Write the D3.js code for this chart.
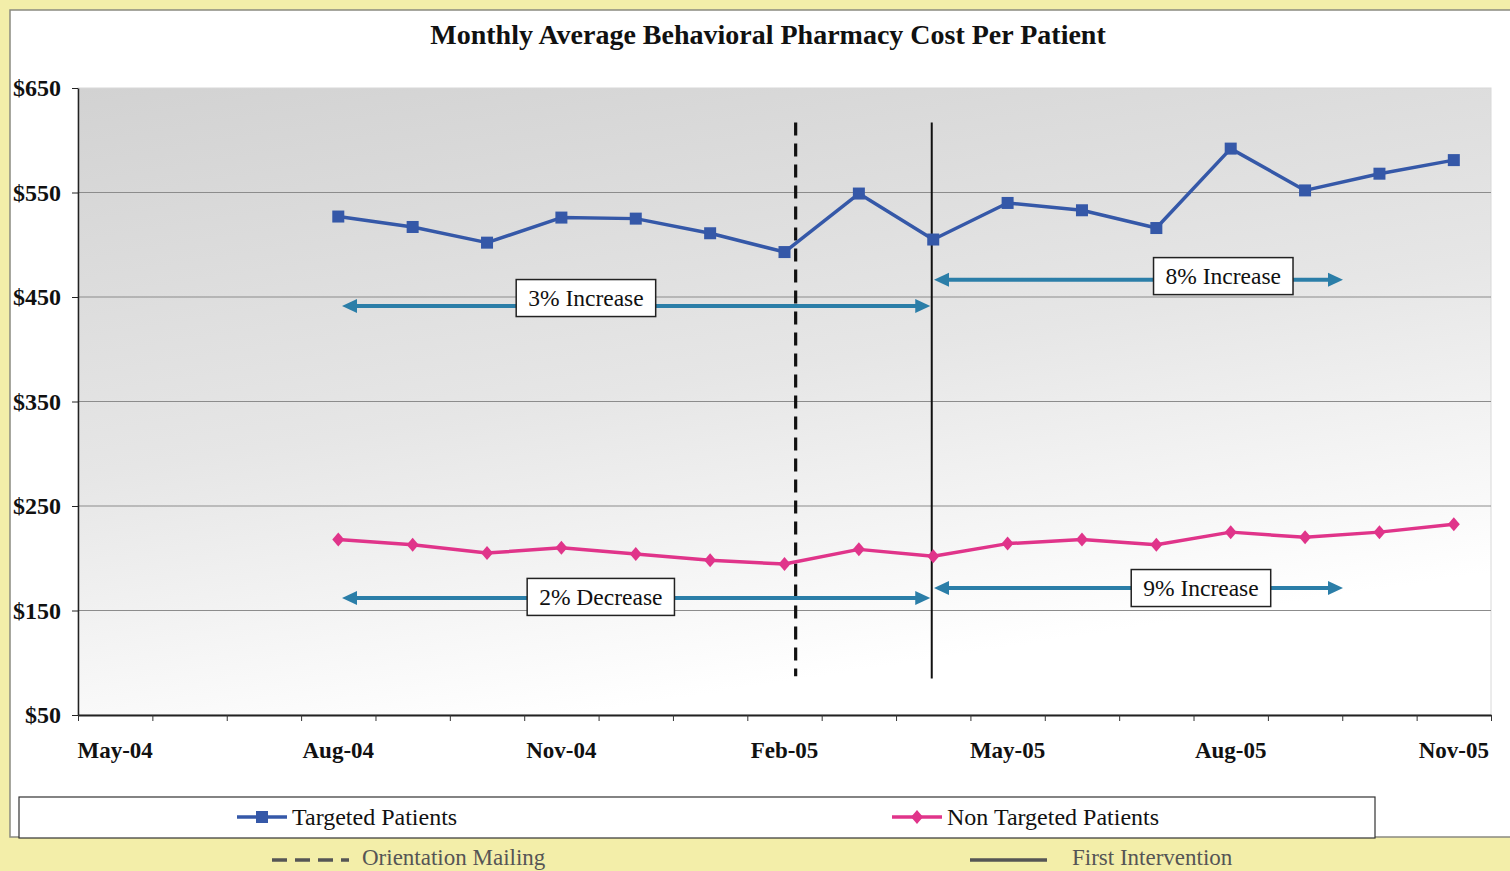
<!DOCTYPE html>
<html><head><meta charset="utf-8">
<script src="https://cdn.jsdelivr.net/npm/d3@7"></script>
<style>body{margin:0;background:#f3eea9;overflow:hidden} svg{display:block}</style>
</head><body><svg id="c" width="1510" height="871"></svg>
<script>
// ---------- data ----------
const months = ["May-04","Jun-04","Jul-04","Aug-04","Sep-04","Oct-04","Nov-04","Dec-04","Jan-05","Feb-05","Mar-05","Apr-05","May-05","Jun-05","Jul-05","Aug-05","Sep-05","Oct-05","Nov-05"];
const dataMonths = ["Aug-04","Sep-04","Oct-04","Nov-04","Dec-04","Jan-05","Feb-05","Mar-05","Apr-05","May-05","Jun-05","Jul-05","Aug-05","Sep-05","Oct-05","Nov-05"];
const targeted    = [527,517,502,526,525,511,493,549,505,540,533,516,592,552,568,581];
const nonTargeted = [218,213,205,210,204,198,194.5,208.5,202,214,218,213,225,220,225,232.5];
const yTicks = [50,150,250,350,450,550,650];
const xLabelMonths = ["May-04","Aug-04","Nov-04","Feb-05","May-05","Aug-05","Nov-05"];
// vertical event lines: position as month index (0 = May-04), value range
const eventNames = ["Orientation Mailing","First Intervention"];
const eventAt    = [9.15, 10.98];
const eventFrom  = [87, 85];
const eventTo    = [617, 617];
// change annotations (month-index span, value level)
const changeLabels = ["3% Increase","8% Increase","2% Decrease","9% Increase"];
const changeFrom   = [3.05, 11.01, 3.05, 11.01];
const changeTo     = [10.96, 16.51, 10.96, 16.51];
const changeY      = [441.5, 466.5, 162, 171.5];
const changeLabelX = [6.33, 14.9, 6.53, 14.6];
const changeLabelY = [449, 470, 163, 171.5];

// ---------- layout ----------
const svg = d3.select("#c");
const L = 78, R = 1491, T = 88, B = 715;
const serif = "'Liberation Serif','Times New Roman',serif";
const blue = "#3558a8", pink = "#e0348a", teal = "#2b7ea8";

const x = d3.scalePoint().domain(months).range([L, R]).padding(0.5);
const xi = d3.scaleLinear().domain([-0.5, months.length - 0.5]).range([L, R]);
const y = d3.scaleLinear().domain([50, 650]).range([B, T]);

const defs = svg.append("defs");
const g1 = defs.append("linearGradient").attr("id","bg").attr("x1",0).attr("y1",0).attr("x2",0.35).attr("y2",1);
g1.append("stop").attr("offset","0%").attr("stop-color","#d2d2d2");
g1.append("stop").attr("offset","55%").attr("stop-color","#e6e6e6");
g1.append("stop").attr("offset","100%").attr("stop-color","#ffffff");

// white panel
svg.append("rect").attr("x",10).attr("y",10).attr("width",1520).attr("height",827)
  .attr("fill","#fff").attr("stroke","#8a8a80").attr("stroke-width",1.5);

// title
svg.append("text").attr("x",768).attr("y",44).attr("text-anchor","middle")
  .attr("font-family",serif).attr("font-weight","bold").attr("font-size",28).attr("fill","#111")
  .text("Monthly Average Behavioral Pharmacy Cost Per Patient");

// plot area
svg.append("rect").attr("x",L).attr("y",T).attr("width",R-L).attr("height",B-T).attr("fill","url(#bg)")
  .attr("stroke","#d8d8d8").attr("stroke-width",1);

// gridlines
svg.append("g").selectAll("line").data(yTicks.filter(d=>d>50 && d<650)).join("line")
  .attr("x1",L).attr("x2",R).attr("y1",d=>y(d)).attr("y2",d=>y(d))
  .attr("stroke","#8c8c8c").attr("stroke-width",1.2);

// y axis
const yAxis = svg.append("g").attr("transform",`translate(${L},0)`)
  .call(d3.axisLeft(y).tickValues(yTicks).tickFormat(d=>"$"+d).tickSize(6).tickSizeOuter(0));
yAxis.select(".domain").attr("stroke","#222").attr("stroke-width",1.5);
yAxis.selectAll(".tick line").attr("stroke","#222");
yAxis.selectAll(".tick text").attr("font-family",serif).attr("font-weight","bold").attr("font-size",24)
  .attr("fill","#111").attr("x",-17);

// x axis with ticks at month boundaries
const bounds = d3.range(-0.5, months.length, 1);
const xAxis = svg.append("g").attr("transform",`translate(0,${B})`)
  .call(d3.axisBottom(xi).tickValues(bounds).tickFormat("").tickSize(6).tickSizeOuter(0));
xAxis.select(".domain").attr("stroke","#222").attr("stroke-width",1.8);
xAxis.selectAll(".tick line").attr("stroke","#333");
svg.append("g").selectAll("text").data(xLabelMonths).join("text")
  .attr("x",d=>x(d)).attr("y",758).attr("text-anchor","middle")
  .attr("font-family",serif).attr("font-weight","bold").attr("font-size",23).attr("fill","#111")
  .text(d=>d);

// event lines
const evG = svg.append("g");
eventNames.forEach((n,i)=>{
  evG.append("line").attr("x1",xi(eventAt[i])).attr("x2",xi(eventAt[i]))
    .attr("y1",y(eventTo[i])).attr("y2",y(eventFrom[i]))
    .attr("stroke","#111").attr("stroke-width", i===0?3.2:2)
    .attr("stroke-dasharray", i===0?"13,8":null);
});

// series lines
const line = d3.line().x(d=>x(d[0])).y(d=>y(d[1]));
const tData = dataMonths.map((m,i)=>[m,targeted[i]]);
const nData = dataMonths.map((m,i)=>[m,nonTargeted[i]]);
svg.append("path").datum(tData).attr("d",line).attr("fill","none").attr("stroke",blue).attr("stroke-width",3.5).attr("stroke-linejoin","round");
svg.append("path").datum(nData).attr("d",line).attr("fill","none").attr("stroke",pink).attr("stroke-width",3.5).attr("stroke-linejoin","round");
svg.append("g").selectAll("rect").data(tData).join("rect")
  .attr("x",d=>x(d[0])-6).attr("y",d=>y(d[1])-6).attr("width",12).attr("height",12).attr("fill",blue);
const diamond = (cx,cy,w,h)=>`M${cx},${cy-h}L${cx+w},${cy}L${cx},${cy+h}L${cx-w},${cy}Z`;
svg.append("g").selectAll("path").data(nData).join("path")
  .attr("d",d=>diamond(x(d[0]),y(d[1]),6,7)).attr("fill",pink);

// change arrows
const arG = svg.append("g");
changeLabels.forEach((lab,i)=>{
  const x1 = xi(changeFrom[i]), x2 = xi(changeTo[i]), yy = y(changeY[i]);
  const hl = 15, hw = 7;
  arG.append("line").attr("x1",x1+hl-2).attr("x2",x2-hl+2).attr("y1",yy).attr("y2",yy)
    .attr("stroke",teal).attr("stroke-width",4);
  arG.append("path").attr("d",`M${x1},${yy}L${x1+hl},${yy-hw}L${x1+hl},${yy+hw}Z`).attr("fill",teal);
  arG.append("path").attr("d",`M${x2},${yy}L${x2-hl},${yy-hw}L${x2-hl},${yy+hw}Z`).attr("fill",teal);
  const lx = xi(changeLabelX[i]), ly = y(changeLabelY[i]);
  const t = arG.append("text").attr("x",lx).attr("y",ly).attr("dy","0.35em").attr("text-anchor","middle")
    .attr("font-family",serif).attr("font-size",23.5).attr("fill","#111").text(lab);
  const bb = t.node().getBBox();
  arG.insert("rect","text:last-of-type").attr("x",bb.x-12).attr("y",ly-18.5).attr("width",bb.width+24).attr("height",37)
    .attr("fill","#fff").attr("stroke","#222").attr("stroke-width",1.5);
  t.raise();
});

// legend box
svg.append("rect").attr("x",19).attr("y",797).attr("width",1356).attr("height",41)
  .attr("fill","#fff").attr("stroke","#333").attr("stroke-width",1.2);
const lg = svg.append("g");
const seriesNames = ["Targeted Patients","Non Targeted Patients"];
const legX = [237, 892];
seriesNames.forEach((n,i)=>{
  const c = i===0?blue:pink, cx = legX[i]+25, cy = 817;
  lg.append("line").attr("x1",legX[i]).attr("x2",legX[i]+50).attr("y1",cy).attr("y2",cy).attr("stroke",c).attr("stroke-width",3.5);
  if(i===0) lg.append("rect").attr("x",cx-6).attr("y",cy-6).attr("width",12).attr("height",12).attr("fill",c);
  else lg.append("path").attr("d",diamond(cx,cy,6,7)).attr("fill",c);
  lg.append("text").attr("x",legX[i]+55).attr("y",cy).attr("dy","0.35em").attr("font-family",serif)
    .attr("font-size",24).attr("fill","#111").text(n);
});

// event legend below
const evLegX = [272, 970];
eventNames.forEach((n,i)=>{
  lg.append("line").attr("x1",evLegX[i]).attr("x2",evLegX[i]+77).attr("y1",860).attr("y2",860)
    .attr("stroke","#555").attr("stroke-width",3.5).attr("stroke-dasharray",i===0?"15,8":null);
  lg.append("text").attr("x",evLegX[i]+(i===0?90:102)).attr("y",865).attr("font-family",serif)
    .attr("font-size",23).attr("fill","#555").text(n);
});
</script></body></html>
